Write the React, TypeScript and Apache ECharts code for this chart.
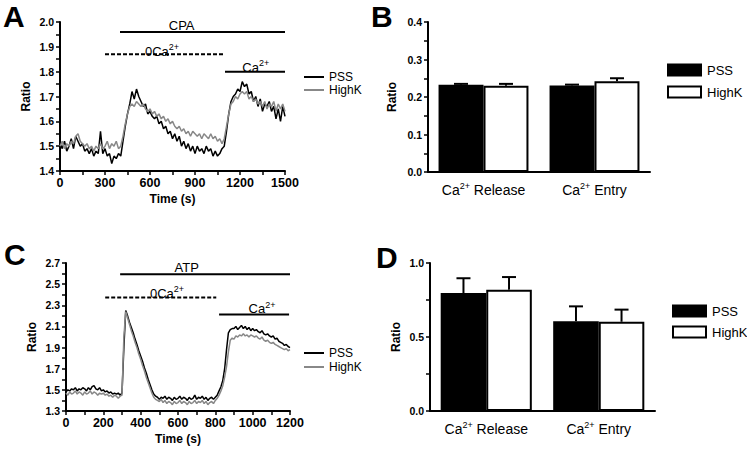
import React, { useEffect, useRef } from 'react';
import * as echarts from 'echarts';

const FONT = '"Liberation Sans", Arial, Helvetica, sans-serif';

// ---------- Panel A: CPA traces (one sample every 15 s, 0–1500 s) ----------
const A_STEP = 15;
const A_PSS = [
  1.51, 1.49, 1.52, 1.48, 1.50, 1.53, 1.49, 1.54, 1.52, 1.50,
  1.51, 1.48, 1.49, 1.47, 1.49, 1.46, 1.48, 1.47, 1.56, 1.47,
  1.49, 1.46, 1.47, 1.43, 1.46, 1.45, 1.47, 1.46, 1.52, 1.58,
  1.63, 1.67, 1.72, 1.69, 1.73, 1.70, 1.68, 1.66, 1.67, 1.63,
  1.64, 1.62, 1.61, 1.62, 1.59, 1.60, 1.57, 1.58, 1.55, 1.56,
  1.53, 1.55, 1.52, 1.54, 1.50, 1.52, 1.49, 1.51, 1.48, 1.50,
  1.47, 1.50, 1.48, 1.49, 1.47, 1.50, 1.48, 1.49, 1.46, 1.48,
  1.46, 1.47, 1.49, 1.50, 1.56, 1.63, 1.68, 1.70, 1.71, 1.73,
  1.72, 1.76, 1.74, 1.75, 1.71, 1.72, 1.68, 1.70, 1.66, 1.69,
  1.64, 1.67, 1.66, 1.68, 1.64, 1.66, 1.61, 1.65, 1.60, 1.66,
  1.62,
];
const A_HIGHK = [
  1.50, 1.52, 1.49, 1.51, 1.50, 1.52, 1.51, 1.54, 1.55, 1.52,
  1.51, 1.50, 1.51, 1.49, 1.50, 1.48, 1.50, 1.49, 1.51, 1.49,
  1.50, 1.52, 1.49, 1.51, 1.50, 1.52, 1.49, 1.50, 1.54, 1.59,
  1.63, 1.66, 1.67, 1.66, 1.68, 1.67, 1.66, 1.67, 1.65, 1.64,
  1.65, 1.63, 1.64, 1.62, 1.63, 1.61, 1.62, 1.60, 1.61, 1.59,
  1.60, 1.58, 1.57, 1.58, 1.56, 1.57, 1.55, 1.56, 1.54, 1.56,
  1.55, 1.54, 1.55, 1.53, 1.55, 1.54, 1.53, 1.55, 1.53, 1.54,
  1.52, 1.53, 1.51, 1.53, 1.58, 1.63, 1.67, 1.68, 1.70, 1.69,
  1.71, 1.72, 1.71, 1.72, 1.69, 1.70, 1.68, 1.69, 1.67, 1.68,
  1.66, 1.68, 1.65, 1.67, 1.66, 1.68, 1.64, 1.67, 1.65, 1.67,
  1.64,
];

// ---------- Panel C: ATP traces (one sample every 10 s, 0–1200 s) ----------
const C_STEP = 10;
const C_PSS = [
  1.48, 1.50, 1.49, 1.51, 1.50, 1.52, 1.49, 1.51, 1.50, 1.52,
  1.51, 1.49, 1.52, 1.50, 1.53, 1.54, 1.51, 1.50, 1.52, 1.49,
  1.50, 1.48, 1.49, 1.47, 1.48, 1.46, 1.47, 1.46, 1.47, 1.45,
  1.47, 1.90, 2.25, 2.20, 2.14, 2.09, 2.04, 1.98, 1.93, 1.87,
  1.82, 1.77, 1.71, 1.66, 1.60, 1.55, 1.50, 1.46, 1.44, 1.43,
  1.41, 1.43, 1.42, 1.44, 1.41, 1.43, 1.42, 1.40, 1.43, 1.41,
  1.42, 1.44, 1.41, 1.43, 1.42, 1.40, 1.43, 1.41, 1.42, 1.45,
  1.41, 1.43, 1.42, 1.44, 1.41, 1.43, 1.40, 1.42, 1.43, 1.41,
  1.43, 1.45, 1.49, 1.53, 1.59, 1.70, 1.88, 2.04, 2.07, 2.08,
  2.08, 2.10, 2.07, 2.09, 2.11, 2.08, 2.10, 2.07, 2.09, 2.06,
  2.08, 2.06, 2.07, 2.05, 2.04, 2.06, 2.03, 2.02, 2.03, 2.01,
  2.00, 2.01, 1.98, 1.99, 1.96, 1.95, 1.94, 1.92, 1.93, 1.91,
  1.90,
];
const C_HIGHK = [
  1.47, 1.45, 1.48, 1.46, 1.47, 1.49, 1.46, 1.48, 1.47, 1.45,
  1.48, 1.46, 1.47, 1.49, 1.46, 1.48, 1.47, 1.45, 1.47, 1.46,
  1.47, 1.45, 1.46, 1.44, 1.45, 1.43, 1.45, 1.44, 1.42, 1.44,
  1.45, 2.00, 2.24, 2.18, 2.12, 2.06, 2.01, 1.95, 1.90, 1.84,
  1.79, 1.73, 1.68, 1.62, 1.57, 1.52, 1.47, 1.43, 1.41, 1.40,
  1.39, 1.41, 1.38, 1.40, 1.37, 1.39, 1.38, 1.36, 1.39, 1.37,
  1.38, 1.40, 1.37, 1.39, 1.38, 1.36, 1.39, 1.37, 1.38, 1.40,
  1.37, 1.39, 1.38, 1.40, 1.37, 1.39, 1.36, 1.38, 1.39, 1.37,
  1.40, 1.42, 1.45, 1.49, 1.54, 1.62, 1.72, 1.86, 1.97, 1.99,
  1.98, 2.01, 2.00, 2.02, 2.01, 2.03, 2.01, 2.02, 2.00, 2.02,
  2.01, 2.00, 2.01, 1.99, 1.98, 2.00, 1.97, 1.96, 1.97, 1.95,
  1.94, 1.95, 1.93, 1.92, 1.91, 1.90, 1.89, 1.88, 1.89, 1.87,
  1.88,
];

// ---------- Panels B & D: bar means and SEM ----------
const BAR_CATEGORIES = ['Ca2+ Release', 'Ca2+ Entry'];
const B_PSS = [0.233, 0.231];
const B_PSS_ERR = [0.002, 0.002];
const B_HIGHK = [0.23, 0.242];
const B_HIGHK_ERR = [0.005, 0.008];
const D_PSS = [0.797, 0.607];
const D_PSS_ERR = [0.1, 0.1];
const D_HIGHK = [0.82, 0.603];
const D_HIGHK_ERR = [0.085, 0.082];

// ---------- Protocol annotations (data coordinates) ----------
const A_PROTOCOL = [
  { from: 400, to: 1500, y: 1.96, dashed: false },
  { from: 300, to: 1090, y: 1.87, dashed: true },
  { from: 1100, to: 1500, y: 1.8, dashed: false },
];
const A_LABELS = [
  { x: 811, y: 1.988, text: 'CPA' },
  { x: 680, y: 1.887, text: '0Ca2+' },
  { x: 1305, y: 1.822, text: 'Ca2+' },
];
const C_PROTOCOL = [
  { from: 290, to: 1200, y: 2.594, dashed: false },
  { from: 210, to: 805, y: 2.374, dashed: true },
  { from: 820, to: 1195, y: 2.213, dashed: false },
];
const C_LABELS = [
  { x: 647, y: 2.663, text: 'ATP' },
  { x: 541, y: 2.424, text: '0Ca2+' },
  { x: 1050, y: 2.275, text: 'Ca2+' },
];

const BAR_GAP = 0.19;
const GREY = '#888888';

function toRich(s: string): string {
  const r = '{n|' + s.replace(/2\+/g, '}{s|2+}{n|') + '}';
  return r.replace(/\{n\|\}/g, '');
}

const RICH_ANN = {
  n: { fontSize: 13, lineHeight: 15, verticalAlign: 'bottom', fontFamily: FONT, color: '#000', textBorderWidth: 0 },
  s: { fontSize: 9, lineHeight: 10, verticalAlign: 'top', fontFamily: FONT, color: '#000', textBorderWidth: 0 },
};
const RICH_CAT = {
  n: { fontSize: 14, lineHeight: 16, verticalAlign: 'bottom', fontFamily: FONT, color: '#000' },
  s: { fontSize: 9, lineHeight: 10, verticalAlign: 'top', fontFamily: FONT, color: '#000' },
};

const axisLine = { show: true, lineStyle: { color: '#000', width: 2 } };
const tickStyle = { color: '#000', width: 1.5 };

function valueAxis(grid: number, min: number, max: number, interval: number, digits: number, isX: boolean, extra: any = {}) {
  return {
    gridIndex: grid,
    type: 'value',
    min,
    max,
    interval,
    axisLine,
    axisTick: { show: true, length: 4, lineStyle: tickStyle },
    minorTick: { show: true, splitNumber: 2, length: 4, lineStyle: tickStyle },
    splitLine: { show: false },
    minorSplitLine: { show: false },
    axisLabel: {
      color: '#000',
      fontFamily: FONT,
      fontWeight: 'bold',
      fontSize: isX ? 12.5 : 10.5,
      margin: isX ? 5 : 6,
      formatter: (v: number) => v.toFixed(digits),
    },
    nameTextStyle: { color: '#000', fontFamily: FONT, fontWeight: 'bold', fontSize: 12 },
    ...extra,
  };
}

function catAxis(grid: number) {
  return {
    gridIndex: grid,
    type: 'category',
    data: BAR_CATEGORIES,
    axisLine,
    axisTick: { show: false },
    axisLabel: { interval: 0, margin: 9, formatter: (v: string) => toRich(v), rich: RICH_CAT },
  };
}

function traceSeries(axis: number, step: number, values: number[], color: string) {
  return {
    type: 'line',
    xAxisIndex: axis,
    yAxisIndex: axis,
    data: values.map((v, i) => [i * step, v]),
    symbol: 'none',
    showSymbol: false,
    silent: true,
    lineStyle: { color, width: 1.5 },
    z: 2,
  };
}

function protocolSeries(axis: number, items: { from: number; to: number; y: number; dashed: boolean }[]) {
  return items.map((p) => ({
    type: 'line',
    xAxisIndex: axis,
    yAxisIndex: axis,
    data: [[p.from, p.y], [p.to, p.y]],
    symbol: 'none',
    silent: true,
    lineStyle: { color: '#000', width: 2, type: p.dashed ? [4, 2] : 'solid' },
    z: 3,
  }));
}

function labelSeries(axis: number, items: { x: number; y: number; text: string }[]) {
  return {
    type: 'scatter',
    xAxisIndex: axis,
    yAxisIndex: axis,
    symbolSize: 1,
    silent: true,
    itemStyle: { color: 'rgba(0,0,0,0)', opacity: 1 },
    data: items.map((t) => ({ value: [t.x, t.y], name: t.text })),
    label: {
      show: true,
      position: 'inside',
      color: '#000',
      opacity: 1,
      textBorderWidth: 0,
      formatter: (p: any) => toRich(p.name),
      rich: RICH_ANN,
    },
    z: 4,
  };
}

function barSeries(axis: number, name: string, values: number[], fill: string) {
  return {
    type: 'bar',
    name,
    xAxisIndex: axis,
    yAxisIndex: axis,
    data: values,
    barGap: '0%',
    barCategoryGap: BAR_GAP * 100 + '%',
    itemStyle: { color: fill, borderColor: '#000', borderWidth: 2 },
    silent: true,
    z: 2,
  };
}

function errorSeries(axis: number, pss: number[], pssErr: number[], hk: number[], hkErr: number[]) {
  const data = [
    ...pss.map((v, i) => [i, v, pssErr[i], -1]),
    ...hk.map((v, i) => [i, v, hkErr[i], 1]),
  ];
  return {
    type: 'custom',
    xAxisIndex: axis,
    yAxisIndex: axis,
    silent: true,
    z: 5,
    encode: { x: 0, y: 1 },
    data,
    renderItem: (params: any, api: any) => {
      const cat = api.value(0);
      const top = api.value(1);
      const err = api.value(2);
      const side = api.value(3);
      const band = api.size([1, 0])[0];
      const bw = (band * (1 - BAR_GAP)) / 2;
      const c = api.coord([cat, top]);
      const e = api.coord([cat, top + err]);
      const x = c[0] + (side * bw) / 2;
      const st = { stroke: '#000', lineWidth: 2 };
      return {
        type: 'group',
        children: [
          { type: 'line', shape: { x1: x, y1: c[1], x2: x, y2: e[1] }, style: st },
          { type: 'line', shape: { x1: x - 7, y1: e[1], x2: x + 7, y2: e[1] }, style: st },
        ],
      };
    },
  };
}

function panelLetter(letter: string, x: number, y: number) {
  return {
    type: 'text',
    x,
    y,
    style: { text: letter, fill: '#000', fontFamily: FONT, fontWeight: 'bold', fontSize: 30, verticalAlign: 'top' },
  };
}

function lineLegend(x: number, y1: number, y2: number) {
  const t = (text: string, y: number) => ({
    type: 'text',
    x: x + 25,
    y,
    style: { text, fill: '#000', fontFamily: FONT, fontSize: 12, verticalAlign: 'middle' },
  });
  return [
    { type: 'line', shape: { x1: x, y1, x2: x + 20, y2: y1 }, style: { stroke: '#000', lineWidth: 2 } },
    t('PSS', y1),
    { type: 'line', shape: { x1: x, y1: y2, x2: x + 20, y2 }, style: { stroke: GREY, lineWidth: 2 } },
    t('HighK', y2),
  ];
}

function boxLegend(x: number, y1: number, y2: number) {
  const t = (text: string, y: number) => ({
    type: 'text',
    x: x + 39,
    y,
    style: { text, fill: '#000', fontFamily: FONT, fontSize: 13, verticalAlign: 'middle' },
  });
  return [
    { type: 'rect', shape: { x, y: y1 - 5.5, width: 33, height: 11 }, style: { fill: '#000', stroke: '#000', lineWidth: 2 } },
    t('PSS', y1),
    { type: 'rect', shape: { x, y: y2 - 5.5, width: 33, height: 11 }, style: { fill: '#fff', stroke: '#000', lineWidth: 2 } },
    t('HighK', y2),
  ];
}

export default function App() {
  const ref = useRef<HTMLDivElement>(null);

  useEffect(() => {
    if (!ref.current) return;
    const chart = echarts.init(ref.current, undefined, { renderer: 'svg' });
    const option: any = {
      animation: false,
      backgroundColor: '#fff',
      grid: [
        { left: 60, top: 22, width: 225, height: 149 },
        { left: 428, top: 22, width: 222, height: 150 },
        { left: 66, top: 263, width: 224, height: 148 },
        { left: 430, top: 263, width: 225, height: 148 },
      ],
      xAxis: [
        valueAxis(0, 0, 1500, 300, 0, true, { name: 'Time (s)', nameLocation: 'middle', nameGap: 22 }),
        catAxis(1),
        valueAxis(2, 0, 1200, 200, 0, true, { name: 'Time (s)', nameLocation: 'middle', nameGap: 22 }),
        catAxis(3),
      ],
      yAxis: [
        valueAxis(0, 1.4, 2.0, 0.1, 1, false, { name: 'Ratio', nameLocation: 'middle', nameGap: 28 }),
        valueAxis(1, 0, 0.4, 0.1, 1, false, { name: 'Ratio', nameLocation: 'middle', nameGap: 30 }),
        valueAxis(2, 1.3, 2.7, 0.2, 1, false, { name: 'Ratio', nameLocation: 'middle', nameGap: 28 }),
        valueAxis(3, 0, 1.0, 0.5, 1, false, { name: 'Ratio', nameLocation: 'middle', nameGap: 28 }),
      ],
      series: [
        traceSeries(0, A_STEP, A_PSS, '#000'),
        traceSeries(0, A_STEP, A_HIGHK, GREY),
        ...protocolSeries(0, A_PROTOCOL),
        labelSeries(0, A_LABELS),
        traceSeries(2, C_STEP, C_PSS, '#000'),
        traceSeries(2, C_STEP, C_HIGHK, GREY),
        ...protocolSeries(2, C_PROTOCOL),
        labelSeries(2, C_LABELS),
        barSeries(1, 'PSS', B_PSS, '#000'),
        barSeries(1, 'HighK', B_HIGHK, '#fff'),
        errorSeries(1, B_PSS, B_PSS_ERR, B_HIGHK, B_HIGHK_ERR),
        barSeries(3, 'PSS', D_PSS, '#000'),
        barSeries(3, 'HighK', D_HIGHK, '#fff'),
        errorSeries(3, D_PSS, D_PSS_ERR, D_HIGHK, D_HIGHK_ERR),
      ],
      graphic: [
        panelLetter('A', 3, 1),
        panelLetter('B', 371, 1),
        panelLetter('C', 4, 239),
        panelLetter('D', 376, 242),
        ...lineLegend(304, 77, 90),
        ...boxLegend(668, 70, 92),
        ...lineLegend(304, 353, 367),
        ...boxLegend(673, 311, 332),
      ],
    };
    chart.setOption(option);
    return () => chart.dispose();
  }, []);

  return (
    <div
      ref={ref}
      style={{ position: 'fixed', left: 0, top: 0, width: 747, height: 451, background: '#fff' }}
    />
  );
}
